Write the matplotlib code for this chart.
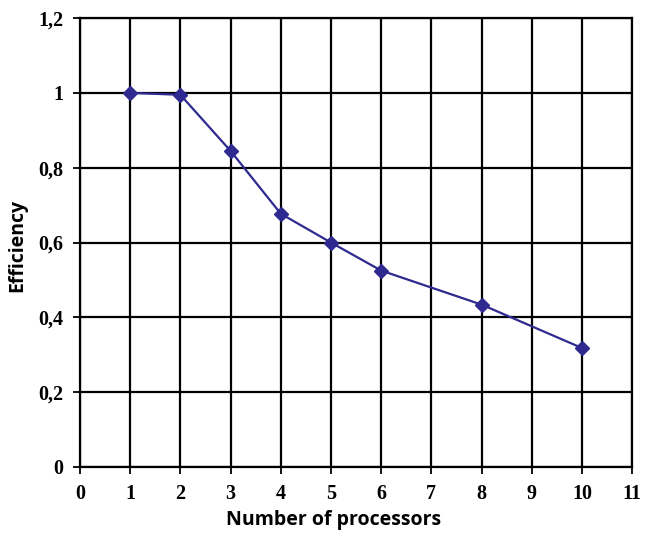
import matplotlib
matplotlib.use("Agg")
import matplotlib.pyplot as plt
from matplotlib.ticker import FixedLocator, FuncFormatter

# Parallel efficiency versus processor count
processors = [1, 2, 3, 4, 5, 6, 8, 10]
efficiency = [1.0, 0.995, 0.845, 0.677, 0.6, 0.525, 0.434, 0.318]

x_ticks = list(range(0, 12))
y_ticks = [0, 0.2, 0.4, 0.6, 0.8, 1.0, 1.2]

fig = plt.figure(figsize=(6.45, 5.33), dpi=100)
ax = fig.add_axes([0.124, 0.124, 0.856, 0.842])

ax.plot(processors, efficiency, color="#2e2a8f", linewidth=1.6,
        marker="D", markersize=7, markerfacecolor="#2e2a8f",
        markeredgecolor="#2e2a8f", zorder=3)

ax.set_xlim(0, 11)
ax.set_ylim(0, 1.2)
ax.xaxis.set_major_locator(FixedLocator(x_ticks))
ax.yaxis.set_major_locator(FixedLocator(y_ticks))


def comma_fmt(v, pos):
    s = f"{v:g}"
    return s.replace(".", ",")


ax.yaxis.set_major_formatter(FuncFormatter(comma_fmt))
ax.xaxis.set_major_formatter(FuncFormatter(lambda v, p: f"{int(v)}"))

ax.grid(True, color="black", linewidth=1.6)
ax.set_axisbelow(True)
for sp in ax.spines.values():
    sp.set_linewidth(1.6)
    sp.set_color("black")

ax.tick_params(axis="both", direction="out", length=5, width=1.3,
               colors="black", pad=7)
for lbl in ax.get_xticklabels() + ax.get_yticklabels():
    lbl.set_fontfamily("Liberation Serif")
    lbl.set_fontweight("bold")
    lbl.set_fontsize(14.5)

ax.set_xlabel("Number of processors", fontfamily="Open Sans",
              fontsize=14, fontweight="bold")
ax.xaxis.set_label_coords(0.46, -0.096)
ax.set_ylabel("Efficiency", fontfamily="Open Sans",
              fontsize=14, fontweight="bold")
ax.yaxis.set_label_coords(-0.096, 0.494)

fig.savefig("out.png", dpi=100)
